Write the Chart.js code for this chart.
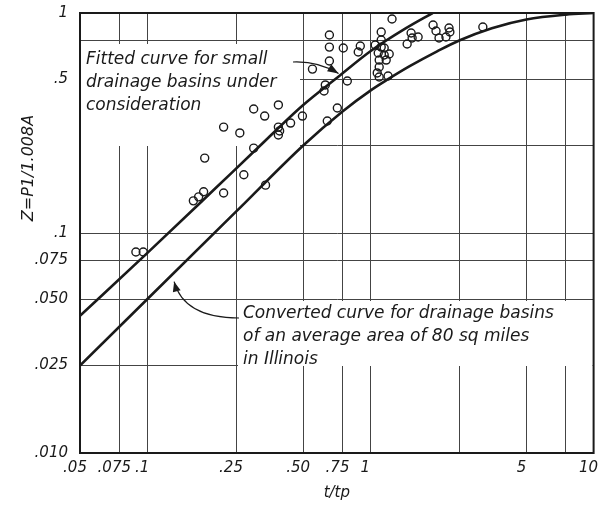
<!DOCTYPE html>
<html>
<head>
<meta charset="utf-8">
<script src="https://cdn.jsdelivr.net/npm/chart.js@4.4.1/dist/chart.umd.min.js"></script>
<style>
  html, body { margin: 0; padding: 0; background: #fff; }
  canvas { display: block; }
</style>
</head>
<body>
<canvas id="zChart" width="599" height="510"></canvas>
<script>
// axis ticks (log scales), blank label = grid line only
const xTicks = [0.05, 0.075, 0.1, 0.25, 0.5, 0.75, 1, 2.5, 5, 7.5, 10];
const xTickLabels = [".05", ".075", ".1", ".25", ".50", ".75", "1", "", "5", "", "10"];
const yTicks = [0.01, 0.025, 0.05, 0.075, 0.1, 0.25, 0.5, 0.75, 1];
const yTickLabels = [".010", ".025", ".050", ".075", ".1", "", ".5", "", "1"];

// observed points (t/tp, Z)
const obsX = [0.089, 0.096, 0.181, 0.161, 0.170, 0.179, 0.220, 0.260, 0.220, 0.300,
  0.336, 0.387, 0.300, 0.271, 0.339, 0.387, 0.392, 0.387, 0.439, 0.496,
  1.25, 0.655, 0.655, 0.756, 0.901, 0.882, 0.655, 0.550, 0.788, 0.628,
  0.620, 0.711, 0.641, 1.118, 1.118, 1.051, 1.118, 1.153, 1.084, 1.153,
  1.214, 1.095, 1.177, 1.095, 1.073, 1.095, 1.200, 1.522, 1.538, 1.636,
  1.461, 1.909, 1.968, 2.03, 2.25, 2.27, 2.18, 3.19];
const obsY = [0.082, 0.082, 0.219, 0.140, 0.146, 0.154, 0.303, 0.285, 0.152, 0.366,
  0.340, 0.382, 0.243, 0.184, 0.165, 0.303, 0.291, 0.279, 0.316, 0.340,
  0.939, 0.794, 0.700, 0.693, 0.708, 0.665, 0.605, 0.556, 0.491, 0.471,
  0.442, 0.370, 0.323, 0.820, 0.754, 0.715, 0.700, 0.693, 0.658, 0.644,
  0.651, 0.611, 0.611, 0.568, 0.534, 0.512, 0.517, 0.811, 0.770, 0.778,
  0.723, 0.882, 0.828, 0.770, 0.855, 0.820, 0.778, 0.864];

// fitted curve for small drainage basins
const fittedX = [0.05, 0.1, 0.2, 0.3, 0.5, 0.73, 1.0, 1.45, 1.9];
const fittedY = [0.042, 0.081, 0.158, 0.234, 0.382, 0.52, 0.67, 0.855, 1.0];

// converted curve, 80 sq miles in Illinois
const convX = [0.05, 0.1, 0.25, 0.5, 0.75, 1.0, 1.2, 1.5, 2.0, 2.5, 3.5, 5, 7.5, 10];
const convY = [0.025, 0.05, 0.125, 0.25, 0.357, 0.444, 0.50, 0.573, 0.671, 0.75, 0.853, 0.935, 0.983, 1.0];

const toPoints = (xs, ys) => xs.map((x, i) => ({ x: x, y: ys[i] }));

const FONT = "DejaVu Sans";
const INK = "#1a1a1a";

function arrowHead(ctx, fromX, fromY, tipX, tipY, len, half) {
  const a = Math.atan2(tipY - fromY, tipX - fromX);
  ctx.beginPath();
  ctx.moveTo(tipX, tipY);
  ctx.lineTo(tipX - len * Math.cos(a) + half * Math.sin(a), tipY - len * Math.sin(a) - half * Math.cos(a));
  ctx.lineTo(tipX - len * Math.cos(a) - half * Math.sin(a), tipY - len * Math.sin(a) + half * Math.cos(a));
  ctx.closePath();
  ctx.fill();
}

// white label boxes over the grid, then the notes text
const notesPlugin = {
  id: "notes",
  beforeDatasetsDraw(chart) {
    const ctx = chart.ctx;
    const area = chart.chartArea;
    ctx.save();
    ctx.fillStyle = "#fff";
    ctx.fillRect(area.left + 1, 44, 299 - area.left, 102);
    ctx.fillRect(238, 301, area.right - 239, 65);

    ctx.fillStyle = INK;
    ctx.font = "oblique 17px '" + FONT + "'";
    ctx.textBaseline = "alphabetic";
    ctx.textAlign = "left";
    ctx.fillText("Fitted curve for small", 86, 64);
    ctx.fillText("drainage basins under", 86, 87);
    ctx.fillText("consideration", 86, 110);

    ctx.fillText("Converted curve for drainage basins", 243, 318);
    ctx.fillText("of an average area of 80 sq miles", 243, 341);
    ctx.fillText("in Illinois", 243, 364);
    ctx.restore();
  },
  afterDatasetsDraw(chart) {
    const ctx = chart.ctx;
    const area = chart.chartArea;
    const xs = chart.scales.x;
    const ys = chart.scales.y;
    ctx.save();

    // frame
    ctx.strokeStyle = INK;
    ctx.lineWidth = 2;
    ctx.strokeRect(area.left, area.top, area.right - area.left, area.bottom - area.top);

    // arrow to fitted curve
    ctx.lineWidth = 1.2;
    ctx.fillStyle = INK;
    const t1x = xs.getPixelForValue(0.72);
    const t1y = ys.getPixelForValue(0.52) - 2;
    ctx.beginPath();
    ctx.moveTo(293, 62);
    ctx.quadraticCurveTo(318, 61, t1x, t1y);
    ctx.stroke();
    arrowHead(ctx, 318, 61, t1x, t1y, 11, 4);

    // arrow to converted curve
    const t2x = xs.getPixelForValue(0.128) + 3;
    const t2y = ys.getPixelForValue(0.064) + 6;
    ctx.beginPath();
    ctx.moveTo(239, 318);
    ctx.quadraticCurveTo(184, 318, t2x, t2y);
    ctx.stroke();
    arrowHead(ctx, 184, 318, t2x, t2y, 10, 4);

    // y axis title
    ctx.font = "oblique 16px '" + FONT + "'";
    ctx.textAlign = "center";
    ctx.textBaseline = "middle";
    ctx.translate(29, 168);
    ctx.rotate(-Math.PI / 2);
    ctx.fillText("Z=P1/1.008A", 0, 0);
    ctx.restore();
  }
};

new Chart(document.getElementById("zChart"), {
  type: "scatter",
  data: {
    datasets: [
      {
        label: "Observed",
        data: toPoints(obsX, obsY),
        pointRadius: 4,
        pointBorderWidth: 1.4,
        pointBorderColor: INK,
        pointBackgroundColor: "rgba(255,255,255,0)",
        showLine: false,
      },
      {
        label: "Fitted curve",
        data: toPoints(fittedX, fittedY),
        showLine: true,
        borderColor: INK,
        borderWidth: 2.6,
        pointRadius: 0,
        cubicInterpolationMode: "monotone",
        fill: false,
      },
      {
        label: "Converted curve",
        data: toPoints(convX, convY),
        showLine: true,
        borderColor: INK,
        borderWidth: 2.6,
        pointRadius: 0,
        cubicInterpolationMode: "monotone",
        fill: false,
      },
    ],
  },
  options: {
    responsive: false,
    animation: false,
    layout: { padding: { left: 0, top: 13, right: 4, bottom: 0 } },
    plugins: {
      legend: { display: false },
      tooltip: { enabled: false },
    },
    scales: {
      x: {
        type: "logarithmic",
        min: 0.05,
        max: 10,
        afterBuildTicks: (scale) => {
          scale.ticks = xTicks.map((v) => ({ value: v }));
        },
        afterFit: (scale) => {
          scale.height = 57;
          scale.paddingLeft = 0;
          scale.paddingRight = 0;
        },
        ticks: {
          autoSkip: false,
          maxRotation: 0,
          padding: 6,
          labelOffset: -5,
          color: INK,
          font: { family: FONT, size: 15, style: "italic" },
          callback: (value, index) => xTickLabels[index],
        },
        grid: { color: "#444", lineWidth: 1, drawTicks: false },
        border: { color: INK, width: 2 },
        title: {
          display: true,
          text: "t/tp",
          color: INK,
          padding: { top: 1, bottom: 8 },
          font: { family: FONT, size: 15, style: "italic" },
        },
      },
      y: {
        type: "logarithmic",
        min: 0.01,
        max: 1,
        afterBuildTicks: (scale) => {
          scale.ticks = yTicks.map((v) => ({ value: v }));
        },
        afterFit: (scale) => {
          scale.width = 80;
          scale.paddingTop = 0;
          scale.paddingBottom = 0;
        },
        ticks: {
          autoSkip: false,
          padding: 12,
          color: INK,
          font: { family: FONT, size: 15, style: "italic" },
          callback: (value, index) => yTickLabels[index],
        },
        grid: { color: "#444", lineWidth: 1, drawTicks: false },
        border: { color: INK, width: 2 },
      },
    },
  },
  plugins: [notesPlugin],
});
</script>
</body>
</html>
